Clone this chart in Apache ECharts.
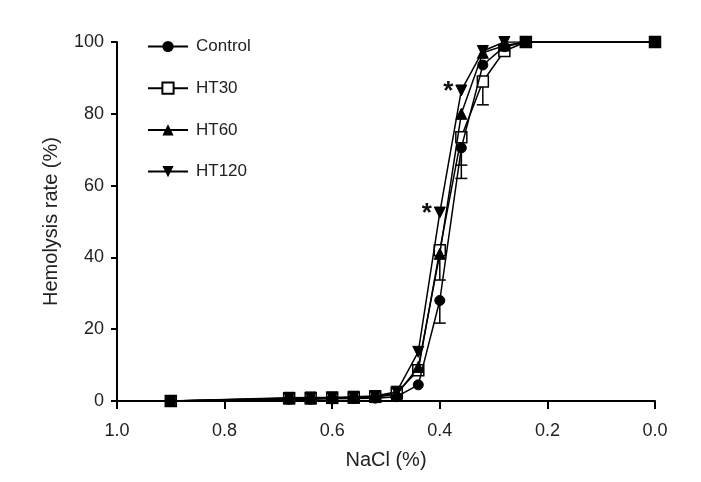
<!DOCTYPE html>
<html><head><meta charset="utf-8">
<script src="https://cdn.jsdelivr.net/npm/echarts@6/dist/echarts.min.js"></script>
<style>html,body{margin:0;padding:0;background:#fff}#c{width:701px;height:482px}</style>
</head><body><div id="c"></div>
<script>
var nacl    = [0.9, 0.68, 0.64, 0.6, 0.56, 0.52, 0.48, 0.44, 0.4, 0.36, 0.32, 0.28, 0.24, 0.0];
var control = [0, 0.5, 0.5, 0.6, 0.7, 0.8, 1.2, 4.5, 28, 70.5, 93.6, 98.7, 100, 100];
var ht30    = [0, 0.8, 0.8, 0.9, 1.0, 1.2, 2.3, 8.6, 42, 73.5, 89, 97.5, 100, 100];
var ht60    = [0, 0.7, 0.7, 0.8, 0.9, 1.1, 1.8, 9.5, 41, 80, 97, 99, 100, 100];
var ht120   = [0, 0.9, 1.0, 1.0, 1.2, 1.4, 2.6, 13.7, 52.5, 86.5, 97.5, 100, 100, 100];
// downward error bars [x, mean, sd]
var controlErr = [[0.4, 28, 6.3], [0.36, 70.5, 8.5]];
var ht30Err    = [[0.4, 42, 8.3], [0.36, 73.5, 7.8], [0.32, 89, 6.5]];
var starAt = [0.4, 0.36];

function pairs(ys){ return nacl.map(function(x,i){ return [x, ys[i]]; }); }
function starred(ys){
  return nacl.map(function(x,i){
    var d = {value:[x, ys[i]]};
    if (starAt.indexOf(x) >= 0) d.label = {show:true, formatter:'*', position:'left', distance:2, fontSize:26, fontWeight:'bold', color:'#111', offset:[0,1]};
    return d;
  });
}
function errSeries(name, data){
  return {type:'custom', name:name+' err', z:1, silent:true, data:data,
    renderItem:function(params, api){
      var x = api.value(0), m = api.value(1), e = api.value(2);
      var p0 = api.coord([x, m]), p1 = api.coord([x, m - e]);
      var st = {stroke:'#000', lineWidth:1.5};
      return {type:'group', children:[
        {type:'line', shape:{x1:p0[0], y1:p0[1], x2:p1[0], y2:p1[1]}, style:st},
        {type:'line', shape:{x1:p1[0]-6, y1:p1[1], x2:p1[0]+6, y2:p1[1]}, style:st}
      ]};
    }};
}
var lineBase = {type:'line', smooth:false, symbolSize:10, lineStyle:{color:'#000', width:1.5}, itemStyle:{color:'#000', borderColor:'#000'}};
var chart = echarts.init(document.getElementById('c'));
chart.setOption({
  animation:false,
  backgroundColor:'#fff',
  textStyle:{fontFamily:'Liberation Sans, Arial, sans-serif'},
  grid:{left:117, right:46, top:42, bottom:81, containLabel:false},
  legend:{
    orient:'vertical', left:142, top:33, itemWidth:40, itemHeight:14, itemGap:24.7,
    textStyle:{fontSize:17, color:'#222', padding:[0,0,0,3]},
    data:['Control','HT30','HT60','HT120']
  },
  xAxis:{type:'value', min:0, max:1, interval:0.2, inverse:true,
    name:'NaCl (%)', nameLocation:'middle', nameGap:49, nameTextStyle:{fontSize:20, color:'#222'},
    axisLine:{lineStyle:{color:'#000', width:2}},
    axisTick:{length:8, lineStyle:{color:'#000', width:2}},
    axisLabel:{fontSize:18, color:'#222', margin:21, formatter:function(v){ return v.toFixed(1); }},
    splitLine:{show:false}},
  yAxis:{type:'value', min:0, max:100, interval:20, position:'left',
    name:'Hemolysis rate (%)', nameLocation:'middle', nameGap:56, nameTextStyle:{fontSize:20, color:'#222'},
    axisLine:{show:true, onZero:false, lineStyle:{color:'#000', width:2}},
    axisTick:{show:true, length:6, lineStyle:{color:'#000', width:2}},
    axisLabel:{fontSize:18, color:'#222', margin:13},
    splitLine:{show:false}},
  series:[
    errSeries('Control', controlErr),
    errSeries('HT30', ht30Err),
    Object.assign({}, lineBase, {name:'HT30', z:2, symbol:'rect', symbolSize:11, data:pairs(ht30), itemStyle:{color:'#fff', borderColor:'#000', borderWidth:1.5}}),
    Object.assign({}, lineBase, {name:'Control', z:3, symbol:'circle', data:pairs(control)}),
    Object.assign({}, lineBase, {name:'HT60', z:4, symbol:'triangle', symbolSize:11, data:pairs(ht60)}),
    Object.assign({}, lineBase, {name:'HT120', z:5, symbol:'triangle', symbolRotate:180, symbolSize:11, data:starred(ht120)})
  ]
});
</script></body></html>
